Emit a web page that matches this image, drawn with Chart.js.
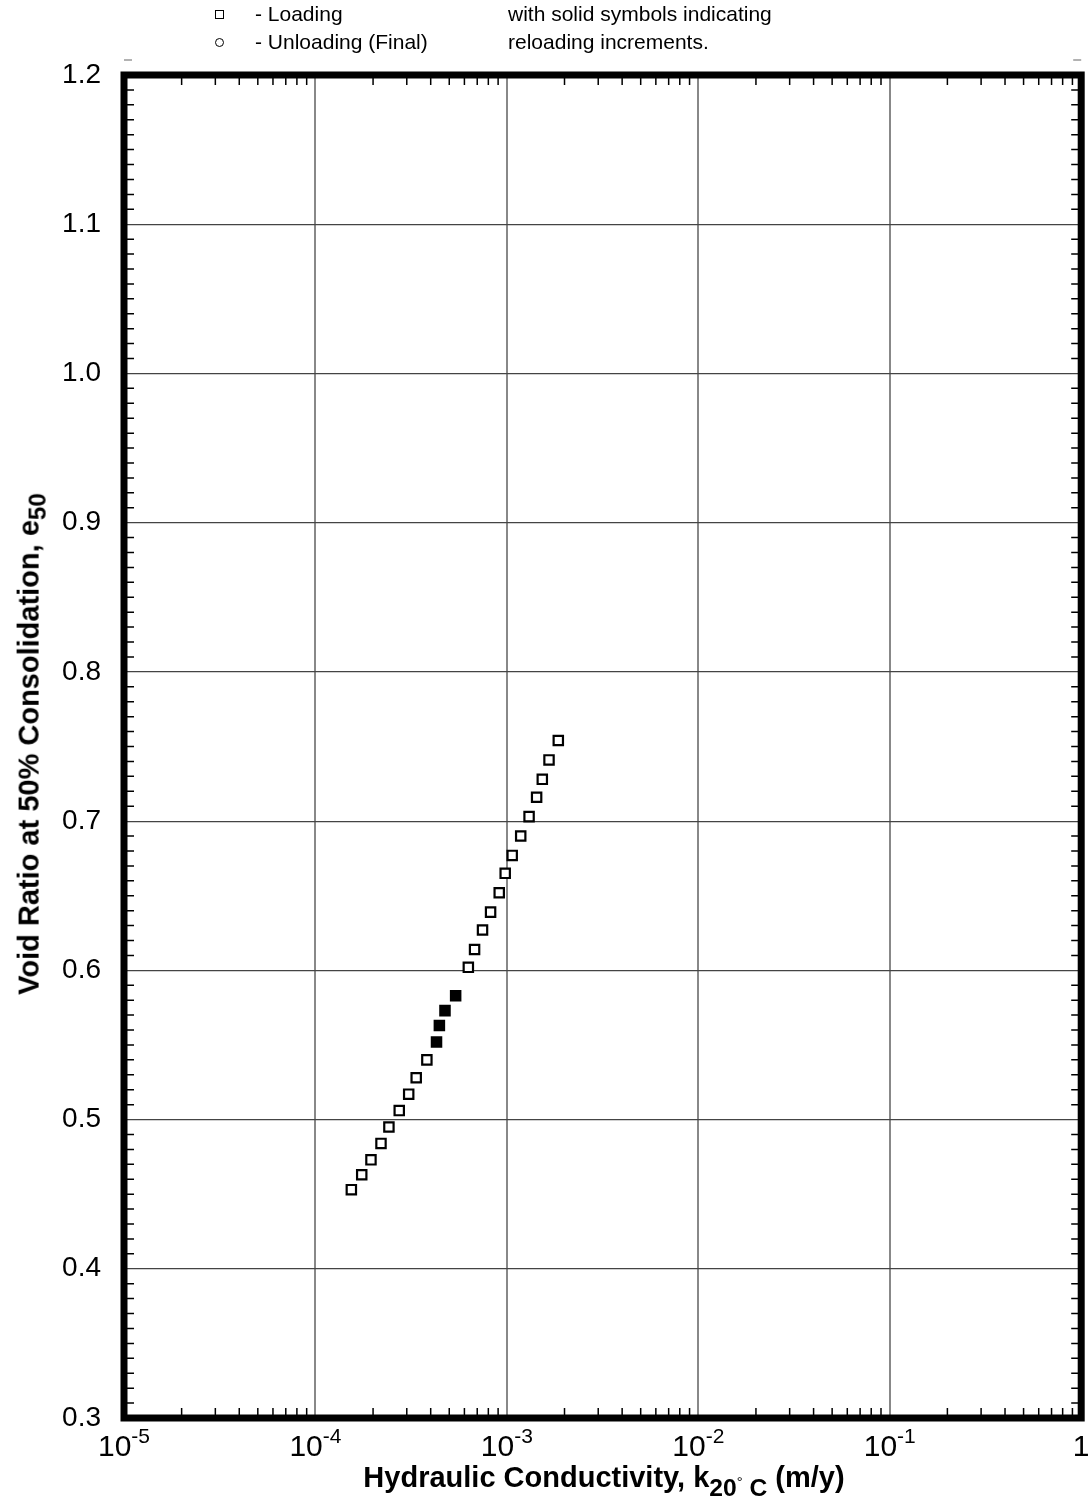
<!DOCTYPE html>
<html lang="en">
<head>
<meta charset="UTF-8">
<title>Void Ratio vs Hydraulic Conductivity</title>
<script src="https://cdn.jsdelivr.net/npm/chart.js"></script>
<style>
    body {
        margin: 0;
        background: #fff;
        color: #000;
        font-family: 'Liberation Sans', Arial, sans-serif;
    }
    .wrap {
        position: relative;
        width: 1090px;
        height: 1504px;
    }
    canvas {
        position: absolute;
        left: 0;
        top: 0;
    }
    .legend {
        position: absolute;
        font-size: 21px;
        line-height: 1;
        white-space: nowrap;
    }
    .sym {
        position: absolute;
        width: 7px;
        height: 7px;
        border: 1.5px solid #000;
    }
    .sym.circle { border-radius: 50%; }
    .ytitle {
        position: absolute;
        left: 32px;
        top: 744px;
        transform: translate(-50%, -50%) rotate(-90deg);
        font-weight: bold;
        font-size: 29px;
        white-space: nowrap;
    }
    .xtitle {
        position: absolute;
        left: 604px;
        top: 1463px;
        transform: translateX(-50%);
        font-weight: bold;
        font-size: 29px;
        line-height: 1;
        white-space: nowrap;
    }
    .xtitle sub { font-size: 0.85em; vertical-align: -0.35em; }
    .deg { font-weight: normal; font-size: 0.6em; vertical-align: 0.6em; }
</style>
</head>
<body>
<div class="wrap">
    <canvas id="chart" width="1090" height="1504"></canvas>

    <div class="sym" style="left:215px; top:10px;"></div>
    <div class="legend" style="left:255px; top:3px;">- Loading</div>
    <div class="sym circle" style="left:215px; top:38px;"></div>
    <div class="legend" style="left:255px; top:31px;">- Unloading (Final)</div>
    <div class="legend" style="left:508px; top:3px;">with solid symbols indicating</div>
    <div class="legend" style="left:508px; top:31px;">reloading increments.</div>

    <div class="ytitle">Void Ratio at 50% Consolidation, e<sub>50</sub></div>
    <div class="xtitle">Hydraulic Conductivity, k<sub>20<span class="deg">&deg;</span> C</sub> (m/y)</div>
</div>
<script>
    // loading increments (open squares)
    const loadK = [1.54e-4, 1.745e-4, 1.95e-4, 2.20e-4, 2.42e-4, 2.74e-4, 3.07e-4, 3.36e-4, 3.82e-4,
                   6.29e-4, 6.78e-4, 7.46e-4, 8.22e-4, 9.12e-4, 9.80e-4, 1.066e-3, 1.181e-3, 1.306e-3,
                   1.430e-3, 1.531e-3, 1.66e-3, 1.856e-3];
    const loadE = [0.453, 0.463, 0.473, 0.484, 0.495, 0.506, 0.517, 0.528, 0.540,
                   0.602, 0.614, 0.627, 0.639, 0.652, 0.665, 0.677, 0.690, 0.703,
                   0.716, 0.728, 0.741, 0.754];
    // reloading increments (solid squares)
    const reloadK = [4.29e-4, 4.44e-4, 4.75e-4, 5.40e-4];
    const reloadE = [0.552, 0.563, 0.573, 0.583];

    const xDecades = [1e-5, 1e-4, 1e-3, 1e-2, 1e-1, 1];
    const xTickLabels = [['10', '-5'], ['10', '-4'], ['10', '-3'], ['10', '-2'], ['10', '-1'], ['1', '']];

    const FONT = "'Liberation Sans', Arial, sans-serif";

    function isDecade(v) {
        if (!v) return false;
        const l = Math.log10(v);
        return Math.abs(l - Math.round(l)) < 1e-6;
    }

    const framePlugin = {
        id: 'frame',
        afterDatasetsDraw(chart) {
            const ctx = chart.ctx;
            const a = chart.chartArea;
            const xs = chart.scales.x, ys = chart.scales.y;
            ctx.save();
            ctx.strokeStyle = '#000';
            ctx.lineWidth = 1.5;
            ctx.beginPath();
            // minor y ticks every 0.01, both sides
            for (let i = 31; i < 120; i++) {
                if (i % 10 === 0) continue;
                const y = ys.getPixelForValue(i / 100);
                ctx.moveTo(a.left, y); ctx.lineTo(a.left + 10, y);
                ctx.moveTo(a.right, y); ctx.lineTo(a.right - 10, y);
            }
            // minor x ticks 2..9 per decade, top and bottom
            for (let d = -5; d < 0; d++) {
                for (let k = 2; k <= 9; k++) {
                    const x = xs.getPixelForValue(k * Math.pow(10, d));
                    ctx.moveTo(x, a.top); ctx.lineTo(x, a.top + 10);
                    ctx.moveTo(x, a.bottom); ctx.lineTo(x, a.bottom - 10);
                }
            }
            ctx.stroke();
            // small stray dashes above the frame corners
            ctx.strokeStyle = '#999';
            ctx.lineWidth = 1.5;
            ctx.beginPath();
            ctx.moveTo(a.left, a.top - 15); ctx.lineTo(a.left + 8, a.top - 15);
            ctx.moveTo(a.right - 8, a.top - 15); ctx.lineTo(a.right, a.top - 15);
            ctx.stroke();
            // heavy frame
            ctx.strokeStyle = '#000';
            ctx.lineWidth = 7;
            ctx.strokeRect(a.left, a.top, a.right - a.left, a.bottom - a.top);

            // x tick labels with superscript exponents
            ctx.fillStyle = '#000';
            ctx.textBaseline = 'alphabetic';
            ctx.textAlign = 'left';
            xDecades.forEach((v, i) => {
                const [base, sup] = xTickLabels[i];
                ctx.font = '30px ' + FONT;
                const wb = ctx.measureText(base).width;
                ctx.font = '21px ' + FONT;
                const ws = sup ? ctx.measureText(sup).width : 0;
                const x0 = xs.getPixelForValue(v) - (wb + ws) / 2;
                ctx.font = '30px ' + FONT;
                ctx.fillText(base, x0, a.bottom + 38);
                if (sup) {
                    ctx.font = '21px ' + FONT;
                    ctx.fillText(sup, x0 + wb, a.bottom + 25);
                }
            });
            ctx.restore();
        }
    };

    const pointStyle = {
        showLine: false,
        pointStyle: 'rect',
        pointRadius: 6.6,
        pointHoverRadius: 6.6,
        pointBorderWidth: 2.2,
        pointBorderColor: '#000'
    };

    new Chart(document.getElementById('chart'), {
        type: 'scatter',
        data: {
            datasets: [
                Object.assign({
                    label: 'Loading',
                    data: loadK.map((k, i) => ({ x: k, y: loadE[i] })),
                    pointBackgroundColor: '#fff'
                }, pointStyle),
                Object.assign({
                    label: 'Reloading',
                    data: reloadK.map((k, i) => ({ x: k, y: reloadE[i] })),
                    pointBackgroundColor: '#000'
                }, pointStyle)
            ]
        },
        options: {
            responsive: false,
            animation: false,
            devicePixelRatio: 1,
            layout: { padding: { left: 0, right: 8, top: 75, bottom: 0 } },
            plugins: { legend: { display: false }, tooltip: { enabled: false } },
            scales: {
                x: {
                    type: 'logarithmic',
                    min: 1e-5,
                    max: 1,
                    afterFit(scale) { scale.height = 86; },
                    ticks: { display: false },
                    border: { display: false },
                    grid: {
                        drawTicks: false,
                        lineWidth: 2,
                        color: c => (c.tick && isDecade(c.tick.value)) ? '#888' : 'rgba(0,0,0,0)'
                    }
                },
                y: {
                    min: 0.3,
                    max: 1.2,
                    afterFit(scale) { scale.width = 124; },
                    ticks: {
                        stepSize: 0.1,
                        padding: 23,
                        color: '#000',
                        font: { family: FONT, size: 28 },
                        callback: v => Number(v).toFixed(1)
                    },
                    border: { display: false },
                    grid: { drawTicks: false, color: '#444', lineWidth: 1.2 }
                }
            }
        },
        plugins: [framePlugin]
    });
</script>
</body>
</html>
